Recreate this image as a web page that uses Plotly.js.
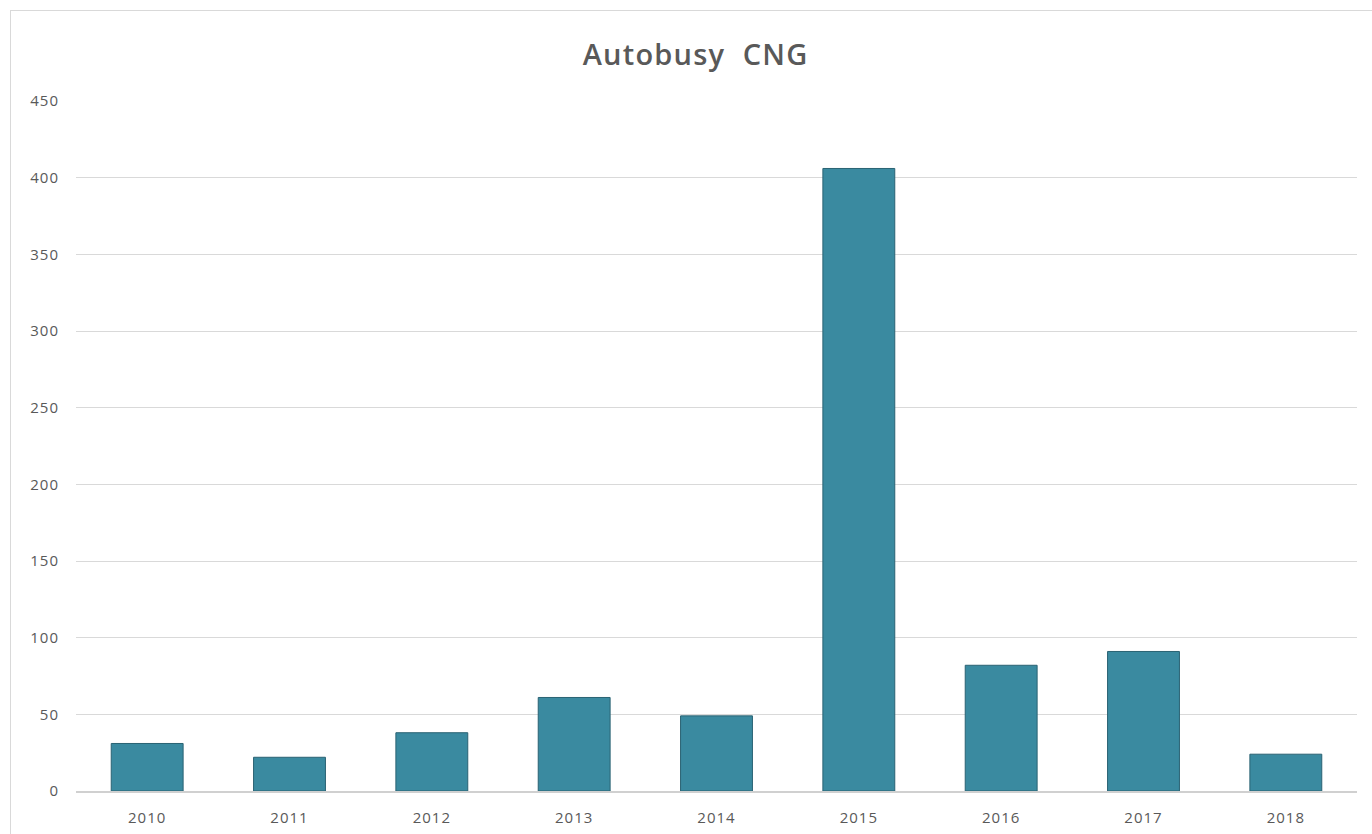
<!DOCTYPE html>
<html>
<head>
<meta charset="utf-8">
<script src="https://cdn.plot.ly/plotly-3.0.1.min.js"></script>
<style>
html,body{margin:0;padding:0;background:#fff;overflow:hidden;}
#frame{position:absolute;left:10px;top:10px;width:1400px;height:900px;border:1px solid #d9d9d9;}
#chart{position:absolute;left:0;top:0;width:1372px;height:834px;}
#chart .gtitle{letter-spacing:1.2px;}
#chart .xtick text, #chart .ytick text{letter-spacing:1px;}
</style>
</head>
<body>
<div id="frame"></div>
<div id="chart"></div>
<script>
const years = ['2010','2011','2012','2013','2014','2015','2016','2017','2018'];
const buses = [31, 22, 38, 61, 49, 406, 82, 91, 24];
const yTicks = [0, 50, 100, 150, 200, 250, 300, 350, 400, 450];

const trace = {
  type: 'bar',
  x: years,
  y: buses,
  width: 0.505,
  marker: {
    color: '#3a8aa0',
    line: {color: '#2a6273', width: 1}
  },
  hoverinfo: 'x+y'
};

const tickFont = {family: 'Open Sans, sans-serif', size: 15, color: '#595959'};

const layout = {
  width: 1372,
  height: 834,
  paper_bgcolor: 'rgba(0,0,0,0)',
  plot_bgcolor: 'rgba(0,0,0,0)',
  margin: {l: 76, r: 15, t: 101, b: 43},
  showlegend: false,
  title: {
    text: 'Autobusy  CNG',
    x: 0.507, xanchor: 'center',
    y: 0.934, yanchor: 'middle',
    font: {family: 'Open Sans, sans-serif', size: 29, weight: 600, color: '#595959'}
  },
  xaxis: {
    type: 'category',
    range: [-0.5, 8.5],
    showgrid: false,
    showline: true,
    linecolor: '#d0d0d0',
    linewidth: 2,
    ticks: '',
    ticklabelstandoff: 12,
    tickfont: tickFont
  },
  yaxis: {
    range: [0, 450],
    tickvals: yTicks,
    ticktext: yTicks.map(String),
    showgrid: true,
    gridcolor: '#d9d9d9',
    gridwidth: 1,
    zeroline: false,
    showline: false,
    ticks: '',
    ticklabelstandoff: 16,
    tickfont: tickFont
  },
  bargap: 0.5
};

Plotly.newPlot('chart', [trace], layout, {displayModeBar: false, staticPlot: true});
</script>
</body>
</html>
